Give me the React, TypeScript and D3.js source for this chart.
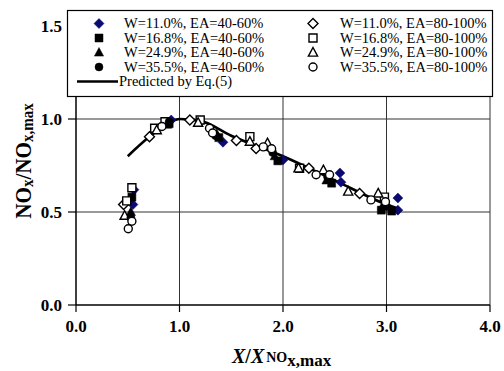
import React from "react";
import * as d3 from "d3";

type P = [number, number];

const filledDiamond: P[] = [[0.56,0.62],[0.55,0.54],[0.92,0.995],[1.42,0.875],[2.0,0.78],[2.55,0.71],[2.56,0.66],[3.11,0.575],[3.11,0.51]];
const filledSquare: P[] = [[0.54,0.58],[0.9,0.975],[1.38,0.9],[1.95,0.775],[2.47,0.655],[2.95,0.51],[3.05,0.505]];
const filledTriangle: P[] = [[0.53,0.5],[0.88,0.97],[1.36,0.92],[1.92,0.8],[2.42,0.67],[2.96,0.53]];
const filledCircle: P[] = [[0.53,0.47],[0.9,0.985],[1.35,0.91],[1.9,0.82],[2.43,0.69],[3.0,0.53]];
const openDiamond: P[] = [[0.46,0.54],[0.71,0.905],[1.1,0.995],[1.55,0.885],[1.74,0.842],[2.25,0.735],[2.74,0.6]];
const openSquare: P[] = [[0.54,0.63],[0.49,0.56],[0.76,0.95],[0.86,0.985],[1.2,0.995],[1.68,0.905],[2.16,0.735],[2.98,0.58]];
const openTriangle: P[] = [[0.47,0.48],[0.78,0.94],[1.18,0.98],[1.68,0.878],[1.85,0.87],[2.15,0.735],[2.39,0.725],[2.63,0.61],[2.92,0.6]];
const openCircle: P[] = [[0.54,0.45],[0.505,0.41],[0.83,0.96],[1.29,0.95],[1.32,0.925],[1.81,0.85],[1.89,0.84],[2.32,0.7],[2.45,0.7],[2.85,0.565],[2.99,0.555]];
const predicted: P[] = [[0.5,0.8],[0.7,0.9],[0.9,0.98],[1.0,1.0],[1.2,0.99],[1.5,0.91],[2.0,0.8],[2.5,0.67],[3.0,0.54],[3.1,0.52]];

const xTicks = [0, 1, 2, 3, 4];
const yTicks = [0, 0.5, 1.0, 1.5];
const legendLabels = [
  "W=11.0%, EA=40-60%", "W=16.8%, EA=40-60%", "W=24.9%, EA=40-60%", "W=35.5%, EA=40-60%",
  "W=11.0%, EA=80-100%", "W=16.8%, EA=80-100%", "W=24.9%, EA=80-100%", "W=35.5%, EA=80-100%",
];

const NAVY = "#0a0a70";
const FONT = "Liberation Serif, Times New Roman, DejaVu Serif, serif";

function markerPath(shape: string): string {
  switch (shape) {
    case "diamond": return "M0,-5L5,0L0,5L-5,0Z";
    case "square": return "M-4,-4H4V4H-4Z";
    case "triangle": return "M0,-5L4.6,3.6H-4.6Z";
    default: return "M4,0A4,4 0 1,1 -4,0A4,4 0 1,1 4,0Z";
  }
}

function Marker({ x, y, shape, filled, color }: { x: number; y: number; shape: string; filled: boolean; color: string }) {
  return (
    <path
      d={markerPath(shape)}
      transform={`translate(${x},${y})`}
      fill={filled ? color : "#fff"}
      stroke={filled ? color : "#000"}
      strokeWidth={filled ? 0.5 : 1.4}
    />
  );
}

const T = (props: any) => <text {...props} style={{ fontFamily: FONT, ...(props.style || {}) }} />;

export default function App() {
  const W = 504, H = 371;
  const left = 76, right = 490, top = 26, bottom = 305;
  const x = d3.scaleLinear().domain([0, 4]).range([left, right]);
  const y = d3.scaleLinear().domain([0, 1.5]).range([bottom, top]);

  const series = [
    { data: filledDiamond, shape: "diamond", filled: true, color: NAVY },
    { data: openDiamond, shape: "diamond", filled: false, color: "#000" },
    { data: filledSquare, shape: "square", filled: true, color: "#000" },
    { data: openSquare, shape: "square", filled: false, color: "#000" },
    { data: filledTriangle, shape: "triangle", filled: true, color: "#000" },
    { data: openTriangle, shape: "triangle", filled: false, color: "#000" },
    { data: filledCircle, shape: "circle", filled: true, color: "#000" },
    { data: openCircle, shape: "circle", filled: false, color: "#000" },
  ];

  const line = d3.line<P>().x(d => x(d[0])).y(d => y(d[1])).curve(d3.curveMonotoneX);

  const legendShapes = [
    { shape: "diamond", filled: true, color: NAVY },
    { shape: "square", filled: true, color: "#000" },
    { shape: "triangle", filled: true, color: "#000" },
    { shape: "circle", filled: true, color: "#000" },
    { shape: "diamond", filled: false, color: "#000" },
    { shape: "square", filled: false, color: "#000" },
    { shape: "triangle", filled: false, color: "#000" },
    { shape: "circle", filled: false, color: "#000" },
  ];
  const rowY = [23.5, 38, 52.5, 67];

  return (
    <svg width={W} height={H} style={{ position: "absolute", left: 0, top: 0, background: "#fff", fontFamily: FONT }}>
      <rect x={0} y={0} width={W} height={H} fill="#fff" />
      {[0.5, 1.0].map(v => (
        <line key={"h" + v} x1={left} x2={right} y1={y(v)} y2={y(v)} stroke="#333" strokeWidth={1} />
      ))}
      {[1, 2, 3].map(v => (
        <line key={"v" + v} x1={x(v)} x2={x(v)} y1={top} y2={bottom} stroke="#333" strokeWidth={1} />
      ))}
      <line x1={right} x2={right} y1={top} y2={bottom} stroke="#333" strokeWidth={1} />
      <line x1={left} x2={right} y1={top} y2={top} stroke="#333" strokeWidth={1} />
      <line x1={left} x2={right} y1={bottom} y2={bottom} stroke="#000" strokeWidth={1.5} />
      <line x1={left} x2={left} y1={top} y2={bottom} stroke="#000" strokeWidth={1.5} />
      {xTicks.map(t => (
        <g key={"xt" + t}>
          <line x1={x(t)} x2={x(t)} y1={bottom} y2={bottom + 7} stroke="#000" strokeWidth={1.2} />
          <T x={x(t)} y={332} textAnchor="middle" fontSize={17} fontWeight="bold">{t.toFixed(1)}</T>
        </g>
      ))}
      {yTicks.map(t => (
        <g key={"yt" + t}>
          <line x1={left - 8} x2={left} y1={y(t)} y2={y(t)} stroke="#000" strokeWidth={1.2} />
          <T x={62} y={y(t) + 6} textAnchor="end" fontSize={17} fontWeight="bold">{t.toFixed(1)}</T>
        </g>
      ))}
      <path d={line(predicted) || ""} fill="none" stroke="#000" strokeWidth={2.6} />
      {series.map((s, i) => (
        <g key={"s" + i}>
          {s.data.map((d, j) => (
            <Marker key={j} x={x(d[0])} y={y(d[1])} shape={s.shape} filled={s.filled} color={s.color} />
          ))}
        </g>
      ))}
      <rect x={67.5} y={10.5} width={425} height={86} fill="#fff" stroke="#000" strokeWidth={1.2} />
      {legendShapes.map((l, i) => {
        const col = i < 4 ? 0 : 1;
        const row = i % 4;
        const mx = col === 0 ? 99 : 313;
        const tx = col === 0 ? 124 : 340;
        return (
          <g key={"lg" + i}>
            <Marker x={mx} y={rowY[row]} shape={l.shape} filled={l.filled} color={l.color} />
            <T x={tx} y={rowY[row] + 4.5} fontSize={14.5}>{legendLabels[i]}</T>
          </g>
        );
      })}
      <line x1={77} x2={118} y1={81.5} y2={81.5} stroke="#000" strokeWidth={2.6} />
      <T x={119} y={86} fontSize={14.5}>Predicted by Eq.(5)</T>
      <g transform="translate(31,161) rotate(-90) scale(0.88,1)">
        <T x={0} y={0} textAnchor="middle" fontSize={24} fontWeight="bold">
          NO<tspan fontSize={17} dy={2}>x</tspan><tspan dy={-2}>/NO</tspan><tspan fontSize={17} dy={2}>x,max</tspan>
        </T>
      </g>
      <T x={232} y={363} fontWeight="bold">
        <tspan fontSize={20} fontStyle="italic">X</tspan><tspan fontSize={20}>/</tspan><tspan fontSize={20} fontStyle="italic">X</tspan><tspan fontSize={14} dx={2} dy={-1}>NO</tspan><tspan fontSize={17} dy={3.5}>x,max</tspan>
      </T>
    </svg>
  );
}
